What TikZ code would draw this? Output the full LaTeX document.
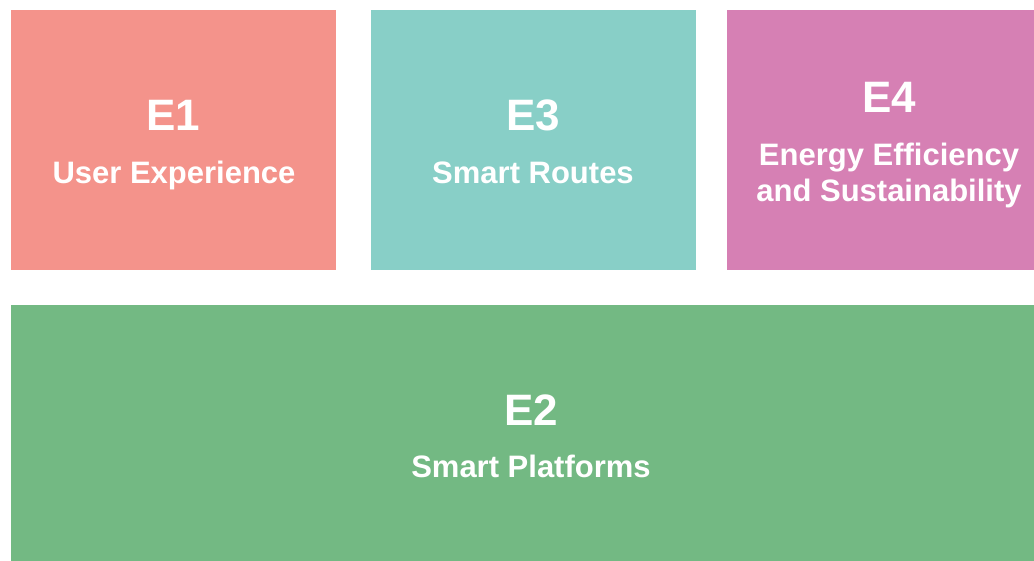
\documentclass[tikz,border=0pt]{standalone}
\usepackage{fontspec}
\setmainfont{Liberation Sans}
\definecolor{eone}{HTML}{F4938B}
\definecolor{ethree}{HTML}{88CFC7}
\definecolor{efour}{HTML}{D680B4}
\definecolor{etwo}{HTML}{73B983}
\begin{document}
\begin{tikzpicture}[x=1pt, y=-1pt]
	\tikzstyle{area} = [ draw=none, rectangle, inner sep=0pt, anchor=north west ];
	\tikzstyle{code} = [ text=white, font={\fontsize{44}{48}\selectfont\bfseries} ];
	\tikzstyle{title} = [ text=white, align=center, font={\fontsize{31}{36}\selectfont\bfseries} ];

	\useasboundingbox (0,0) rectangle (1034,561);

	\node[area, fill=eone, minimum width=325pt, minimum height=260pt] (e1box) at (11,10) {};
	\node[area, fill=ethree, minimum width=325pt, minimum height=260pt] (e3box) at (371,10) {};
	\node[area, fill=efour, minimum width=330pt, minimum height=260pt] (e4box) at (727,10) {};
	\node[area, fill=etwo, minimum width=1030pt, minimum height=256pt] (e2box) at (11,305) {};

	\node[code] (e1) at (173,115) {E1};
	\node[title] (e1t) at (174,175) {User Experience};

	\node[code] (e3) at (533,115) {E3};
	\node[title] (e3t) at (533,173) {Smart Routes};

	\node[code] (e4) at (889,97) {E4};
	\node[title] (e4t) at (889,175) {Energy Efficiency\\and Sustainability};

	\node[code] (e2) at (531,410) {E2};
	\node[title] (e2t) at (531,466) {Smart Platforms};
\end{tikzpicture}
\end{document}
